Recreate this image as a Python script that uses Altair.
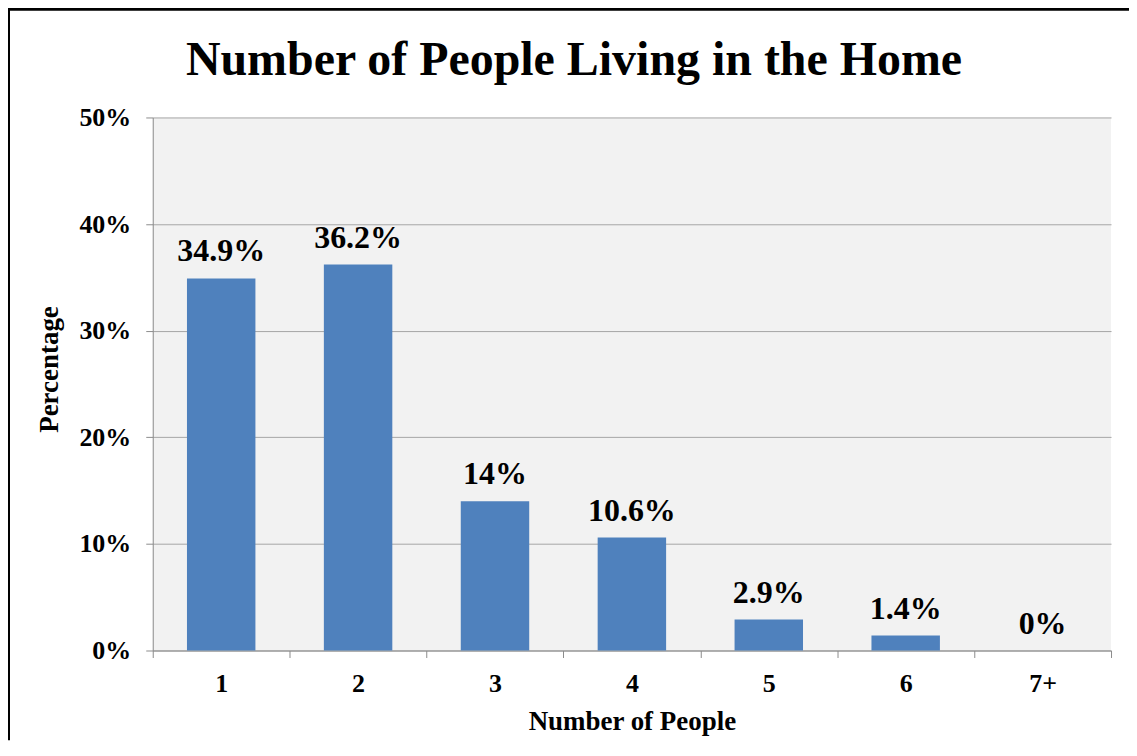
import altair as alt
import pandas as pd

title_text = "Number of People Living in the Home"
categories = ["1", "2", "3", "4", "5", "6", "7+"]
values = [34.9, 36.2, 14, 10.6, 2.9, 1.4, 0]
labels = [f"{v:g}%" for v in values]

df = pd.DataFrame({"people": categories, "pct": values, "label": labels})

FONT = "Liberation Serif"
W, H = 960, 534
PAD = {"left": 145, "top": 109, "right": 18, "bottom": 90}

base = alt.Chart(df)

x_enc = alt.X(
    "people:N",
    sort=categories,
    scale=alt.Scale(paddingInner=0, paddingOuter=0),
    axis=alt.Axis(
        title="Number of People",
        labelAngle=0,
        tickBand="extent",
        tickSize=7,
        tickColor="#8C8C8C",
        domainColor="#8C8C8C",
        labelFontSize=26,
        labelPadding=34,
        labelBaseline="alphabetic",
        titleFontSize=27,
        titleY=79,
        titleBaseline="alphabetic",
        grid=False,
    ),
)

y_enc = alt.Y(
    "pct:Q",
    scale=alt.Scale(domain=[0, 50]),
    axis=alt.Axis(
        title="Percentage",
        values=[0, 10, 20, 30, 40, 50],
        labelExpr="datum.value + '%'",
        tickSize=7,
        tickColor="#8C8C8C",
        domainColor="#8C8C8C",
        gridColor="#A6A6A6",
        labelFontSize=26,
        labelPadding=15,
        titleFontSize=27,
        titleAngle=270,
        titleAlign="center",
        titleBaseline="middle",
        titleX=-103,
        titleY=252,
    ),
)

bars = base.mark_bar(color="#4F81BD", width=alt.RelativeBandSize(0.5)).encode(
    x=x_enc, y=y_enc
)

text = base.mark_text(
    font=FONT, fontSize=32, fontWeight="bold", baseline="alphabetic", dy=-17, color="#000000"
).encode(x=alt.X("people:N", sort=categories), y="pct:Q", text="label:N")

one = pd.DataFrame({"t": [title_text]})

title = alt.Chart(one).mark_text(
    font=FONT, fontSize=48, fontWeight="bold", baseline="alphabetic", align="center", color="#000000"
).encode(x=alt.value(422), y=alt.value(-43), text="t:N")

frame_top = alt.Chart(one).mark_rule(color="#000000", strokeWidth=4).encode(
    x=alt.value(-145), x2=alt.value(W + 18), y=alt.value(-109)
)
frame_left = alt.Chart(one).mark_rule(color="#000000", strokeWidth=4).encode(
    x=alt.value(-145), y=alt.value(-109), y2=alt.value(H + 90)
)

chart = (
    alt.layer(bars, text, title, frame_top, frame_left)
    .properties(
        width=W,
        height=H,
        padding=PAD,
        autosize=alt.AutoSizeParams(type="none"),
    )
    .configure(font=FONT, background="white")
    .configure_view(fill="#F2F2F2", stroke=None)
    .configure_axis(
        labelFont=FONT,
        titleFont=FONT,
        labelFontWeight="bold",
        titleFontWeight="bold",
        labelColor="#000000",
        titleColor="#000000",
    )
)

chart.save("out.html", embed_options={"renderer": "svg", "actions": False})
